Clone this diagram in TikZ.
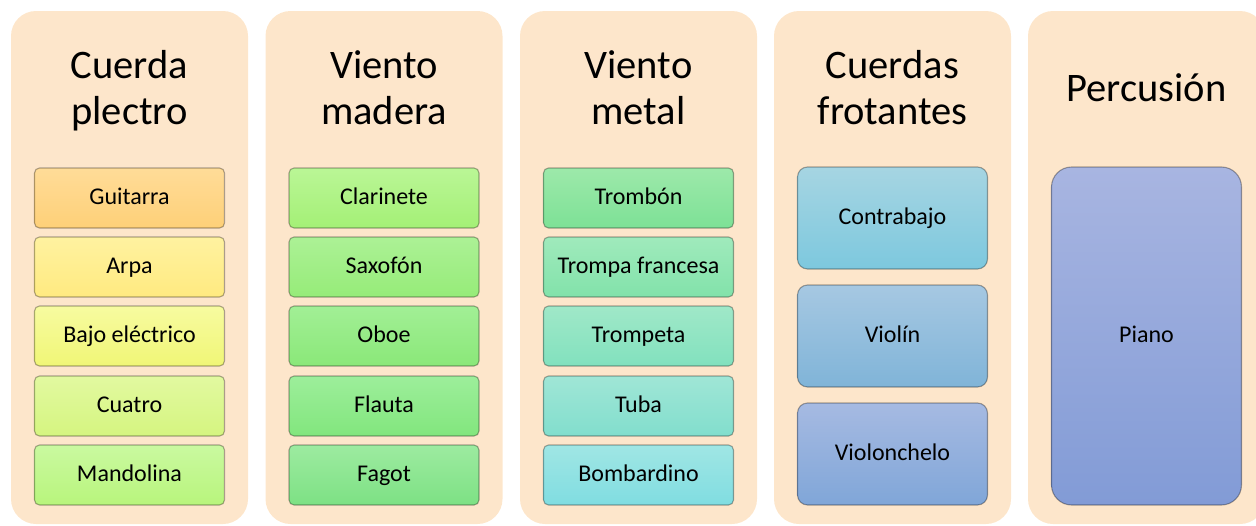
\documentclass[tikz,border=0pt]{standalone}
\usepackage{fontspec}
\setmainfont{Carlito}
\definecolor{panelc}{RGB}{253,230,203}
\definecolor{gA}{RGB}{255,220,152}\definecolor{gB}{RGB}{254,208,120}
\definecolor{aA}{RGB}{255,242,160}\definecolor{aB}{RGB}{255,234,128}
\definecolor{bA}{RGB}{247,251,160}\definecolor{bB}{RGB}{240,246,118}
\definecolor{cA}{RGB}{226,249,160}\definecolor{cB}{RGB}{213,245,128}
\definecolor{mA}{RGB}{202,249,160}\definecolor{mB}{RGB}{184,245,124}
\definecolor{clA}{RGB}{186,246,150}\definecolor{clB}{RGB}{164,240,118}
\definecolor{sxA}{RGB}{172,241,150}\definecolor{sxB}{RGB}{150,236,120}
\definecolor{obA}{RGB}{162,239,150}\definecolor{obB}{RGB}{138,232,120}
\definecolor{flA}{RGB}{157,238,155}\definecolor{flB}{RGB}{130,230,125}
\definecolor{fgA}{RGB}{157,235,160}\definecolor{fgB}{RGB}{125,225,132}
\definecolor{tbA}{RGB}{157,233,170}\definecolor{tbB}{RGB}{125,225,150}
\definecolor{tfA}{RGB}{160,234,188}\definecolor{tfB}{RGB}{130,226,170}
\definecolor{tpA}{RGB}{160,232,200}\definecolor{tpB}{RGB}{130,225,190}
\definecolor{tuA}{RGB}{160,230,214}\definecolor{tuB}{RGB}{130,222,205}
\definecolor{boA}{RGB}{160,230,228}\definecolor{boB}{RGB}{128,221,225}
\definecolor{coA}{RGB}{166,213,226}\definecolor{coB}{RGB}{125,200,222}
\definecolor{viA}{RGB}{166,200,226}\definecolor{viB}{RGB}{128,180,216}
\definecolor{vcA}{RGB}{166,186,226}\definecolor{vcB}{RGB}{128,166,216}
\definecolor{piA}{RGB}{168,181,225}\definecolor{piB}{RGB}{130,155,214}
\tikzset{
  panel/.style={fill=panelc, rounded corners=25pt, minimum width=237pt, minimum height=513pt, inner sep=0pt, outer sep=0pt},
  title/.style={font=\fontsize{40.5}{46}\selectfont, align=center, inner sep=0pt, text=black},
  ibox/.style={rounded corners=5pt, draw=black, draw opacity=0.32, line width=1.1pt,
     minimum width=190pt, minimum height=60pt, inner sep=0pt,
     font=\fontsize{24}{28}\selectfont, text height=16.5pt, text depth=4.5pt, shading=axis},
  tallbox/.style={ibox, rounded corners=10pt, minimum height=102pt},
  pianobox/.style={ibox, rounded corners=20pt, minimum height=338pt},
}
\newcommand{\ts}{\rule[-9pt]{0pt}{39pt}}
\begin{document}
\begin{tikzpicture}[x=1pt,y=-1pt]
\useasboundingbox (0,0) rectangle (1256,525);
\begin{scope}
\clip (0,0) rectangle (1256,525);
\node[panel] (p1) at (129.5,267.5) {};
\node[panel] (p2) at (384,267.5) {};
\node[panel] (p3) at (638.5,267.5) {};
\node[panel] (p4) at (892.5,267.5) {};
\node[panel] (p5) at (1146.5,267.5) {};
\end{scope}
\node[title] (t1) at (129.5,90.5) {\ts Cuerda\\\ts plectro};
\node[title] (t2) at (384,90.5) {\ts Viento\\\ts madera};
\node[title] (t3) at (638.5,90.5) {\ts Viento\\\ts metal};
\node[title] (t4) at (892.5,90.5) {\ts Cuerdas\\\ts frotantes};
\node[title] (t5) at (1146.5,90.5) {\ts Percusión};
% Cuerda plectro
\node[ibox, top color=gA, bottom color=gB] (b11) at (129.5,198) {Guitarra};
\node[ibox, top color=aA, bottom color=aB] (b12) at (129.5,267) {Arpa};
\node[ibox, top color=bA, bottom color=bB] (b13) at (129.5,336) {Bajo eléctrico};
\node[ibox, top color=cA, bottom color=cB] (b14) at (129.5,406) {Cuatro};
\node[ibox, top color=mA, bottom color=mB] (b15) at (129.5,475) {Mandolina};
% Viento madera
\node[ibox, top color=clA, bottom color=clB] (b21) at (384,198) {Clarinete};
\node[ibox, top color=sxA, bottom color=sxB] (b22) at (384,267) {Saxofón};
\node[ibox, top color=obA, bottom color=obB] (b23) at (384,336) {Oboe};
\node[ibox, top color=flA, bottom color=flB] (b24) at (384,406) {Flauta};
\node[ibox, top color=fgA, bottom color=fgB] (b25) at (384,475) {Fagot};
% Viento metal
\node[ibox, top color=tbA, bottom color=tbB] (b31) at (638.5,198) {Trombón};
\node[ibox, top color=tfA, bottom color=tfB] (b32) at (638.5,267) {Trompa francesa};
\node[ibox, top color=tpA, bottom color=tpB] (b33) at (638.5,336) {Trompeta};
\node[ibox, top color=tuA, bottom color=tuB] (b34) at (638.5,406) {Tuba};
\node[ibox, top color=boA, bottom color=boB] (b35) at (638.5,475) {Bombardino};
% Cuerdas frotantes
\node[tallbox, top color=coA, bottom color=coB] (b41) at (892.5,218) {Contrabajo};
\node[tallbox, top color=viA, bottom color=viB] (b42) at (892.5,336) {Violín};
\node[tallbox, top color=vcA, bottom color=vcB] (b43) at (892.5,454) {Violonchelo};
% Percusion
\node[pianobox, top color=piA, bottom color=piB] (b51) at (1146.5,336) {Piano};
\end{tikzpicture}
\end{document}
